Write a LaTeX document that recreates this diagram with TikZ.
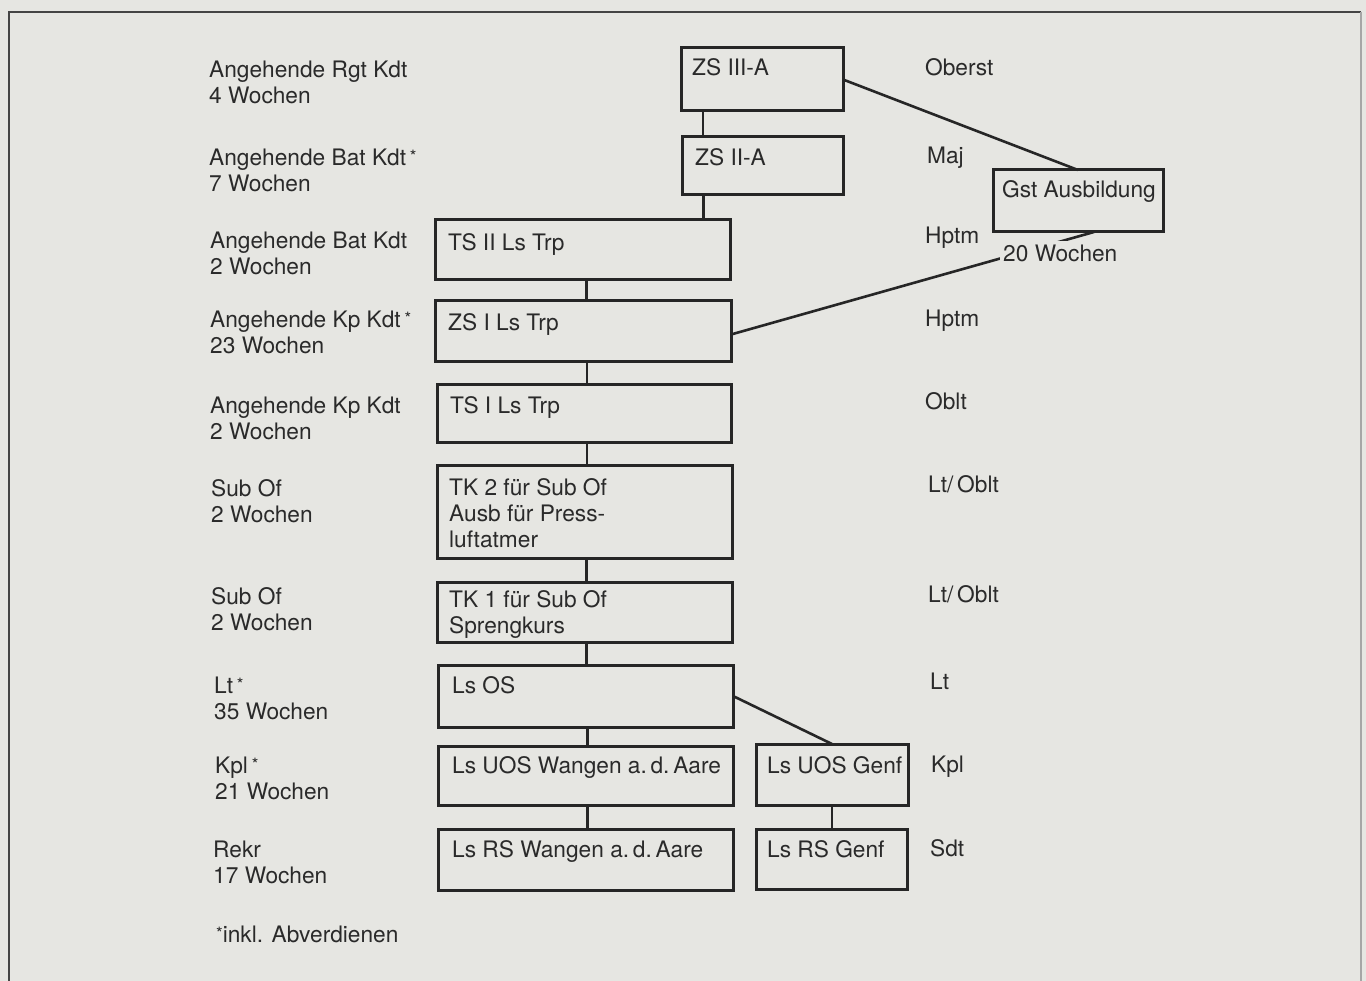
\documentclass[tikz,border=0pt]{standalone}
\usepackage{fontspec}
\setmainfont{TeX Gyre Heros}
\definecolor{bgc}{HTML}{E6E6E2}
\definecolor{inkc}{HTML}{262626}
\definecolor{textc}{HTML}{2A2A2A}
\definecolor{framec}{HTML}{444444}
\newcommand\mainf{\fontsize{22.7}{26}\selectfont}
\newcommand\ts{\rule{0pt}{17pt}}
\newcommand\sstar{\,\raisebox{3pt}{\fontsize{17}{17}\selectfont *}}
\begin{document}
\begin{tikzpicture}[x=1pt,y=-1pt,label distance=0pt,
  box/.style={draw=inkc, line width=3pt, rectangle, inner sep=0pt, outer sep=0pt, anchor=north west},
  conn/.style={draw=inkc, line width=2.6pt},
  txt/.style={text=textc, font=\mainf, inner sep=0pt, anchor=north west, align=left}]
\useasboundingbox (0,0) rectangle (1366,981);
\fill[bgc] (0,0) rectangle (1366,981);
% frame
\draw[framec, line width=2pt] (8.5,981) -- (8.5,12) -- (1361,12);
\draw[gray!70, line width=1.5pt] (1361,12) -- (1361,981);

% boxes
\node[box, minimum width=162pt, minimum height=63pt,
  label={[txt, xshift=11pt, yshift=-10pt]north west:\ts ZS III-A}] (zs3) at (681,48) {};
\node[box, minimum width=161pt, minimum height=58pt,
  label={[txt, xshift=13pt, yshift=-11pt]north west:\ts ZS II-A}] (zs2) at (682,137) {};
\node[box, minimum width=170pt, minimum height=62pt,
  label={[txt, xshift=9pt, yshift=-10pt]north west:\ts Gst Ausbildung}] (gst) at (993,170) {};
\node[box, minimum width=295pt, minimum height=60pt,
  label={[txt, xshift=13pt, yshift=-13pt]north west:\ts TS II Ls Trp}] (ts2) at (435,220) {};
\node[box, minimum width=296pt, minimum height=61pt,
  label={[txt, xshift=13pt, yshift=-12pt]north west:\ts ZS I Ls Trp}] (zs1) at (435,301) {};
\node[box, minimum width=294pt, minimum height=58pt,
  label={[txt, xshift=13pt, yshift=-11pt]north west:\ts TS I Ls Trp}] (ts1) at (437,385) {};
\node[box, minimum width=295pt, minimum height=92pt,
  label={[txt, xshift=12pt, yshift=-12pt]north west:\ts TK 2 für Sub Of\\Ausb für Press-\\luftatmer}] (tk2) at (437,466) {};
\node[box, minimum width=295pt, minimum height=60pt,
  label={[txt, xshift=12pt, yshift=-8pt]north west:\ts TK 1 für Sub Of\\Sprengkurs}] (tk1) at (437,582) {};
\node[box, minimum width=295pt, minimum height=62pt,
  label={[txt, xshift=14pt, yshift=-11pt]north west:\ts Ls OS}] (lsos) at (438,665) {};
\node[box, minimum width=295pt, minimum height=59pt,
  label={[txt, xshift=14pt, yshift=-10pt]north west:\ts Ls UOS Wangen a.\,d.\,Aare}] (uosw) at (438,746) {};
\node[box, minimum width=295pt, minimum height=61pt,
  label={[txt, xshift=14pt, yshift=-11pt]north west:\ts Ls RS Wangen a.\,d.\,Aare}] (rsw) at (438,829) {};
\node[box, minimum width=152pt, minimum height=61pt,
  label={[txt, xshift=11pt, yshift=-12pt]north west:\ts Ls UOS Genf}] (uosg) at (756,744) {};
\node[box, minimum width=151pt, minimum height=60pt,
  label={[txt, xshift=11pt, yshift=-11pt]north west:\ts Ls RS Genf}] (rsg) at (756,829) {};

% connectors (vertical)
\draw[conn] ([xshift=-59pt]zs3.south) -- ([xshift=-59pt]zs3.south |- zs2.north);
\draw[conn] ([xshift=-59pt]zs2.south) -- ([xshift=-59pt]zs2.south |- ts2.north);
\draw[conn] ([xshift=4pt]ts2.south) -- ([xshift=4pt]ts2.south |- zs1.north);
\draw[conn] ([xshift=4pt]zs1.south) -- ([xshift=4pt]zs1.south |- ts1.north);
\draw[conn] ([xshift=3pt]ts1.south) -- ([xshift=3pt]ts1.south |- tk2.north);
\draw[conn] ([xshift=2pt]tk2.south) -- ([xshift=2pt]tk2.south |- tk1.north);
\draw[conn] ([xshift=2pt]tk1.south) -- ([xshift=2pt]tk1.south |- lsos.north);
\draw[conn] ([xshift=2pt]lsos.south) -- ([xshift=2pt]lsos.south |- uosw.north);
\draw[conn] ([xshift=2pt]uosw.south) -- ([xshift=2pt]uosw.south |- rsw.north);
\draw[conn] (uosg.south) -- (uosg.south |- rsg.north);
% connectors (diagonal)
\draw[conn] (lsos.east) -- (uosg.north);
\draw[conn] (zs3.east) -- (gst.north);
\draw[conn] ([yshift=-3pt]zs1.east) -- ([xshift=16pt]gst.south);
\node[txt, fill=bgc, inner sep=3pt] (w20) at (1000,241) {\ts 20 Wochen};

% left labels
\node[txt] (l1) at (209,60) {\ts Angehende Rgt Kdt\\4 Wochen};
\node[txt] (l2) at (209,148) {\ts Angehende Bat Kdt\sstar\\7 Wochen};
\node[txt] (l3) at (210,231) {\ts Angehende Bat Kdt\\2 Wochen};
\node[txt] (l4) at (210,310) {\ts Angehende Kp Kdt\sstar\\23 Wochen};
\node[txt] (l5) at (210,396) {\ts Angehende Kp Kdt\\2 Wochen};
\node[txt] (l6) at (211,479) {\ts Sub Of\\2 Wochen};
\node[txt] (l7) at (211,587) {\ts Sub Of\\2 Wochen};
\node[txt] (l8) at (214,676) {\ts Lt\sstar\\35 Wochen};
\node[txt] (l9) at (215,756) {\ts Kpl\sstar\\21 Wochen};
\node[txt] (l10) at (213,840) {\ts Rekr\\17 Wochen};
\node[txt] (note) at (216,925) {\ts \raisebox{3pt}{\fontsize{17}{17}\selectfont *}inkl. Abverdienen};

% right labels
\node[txt] (r1) at (925,58) {\ts Oberst};
\node[txt] (r2) at (927,146) {\ts Maj};
\node[txt] (r3) at (925,226) {\ts Hptm};
\node[txt] (r4) at (925,309) {\ts Hptm};
\node[txt] (r5) at (925,392) {\ts Oblt};
\node[txt] (r6) at (928,475) {\ts Lt/\,Oblt};
\node[txt] (r7) at (928,585) {\ts Lt/\,Oblt};
\node[txt] (r8) at (930,672) {\ts Lt};
\node[txt] (r9) at (931,755) {\ts Kpl};
\node[txt] (r10) at (930,839) {\ts Sdt};
\end{tikzpicture}
\end{document}
